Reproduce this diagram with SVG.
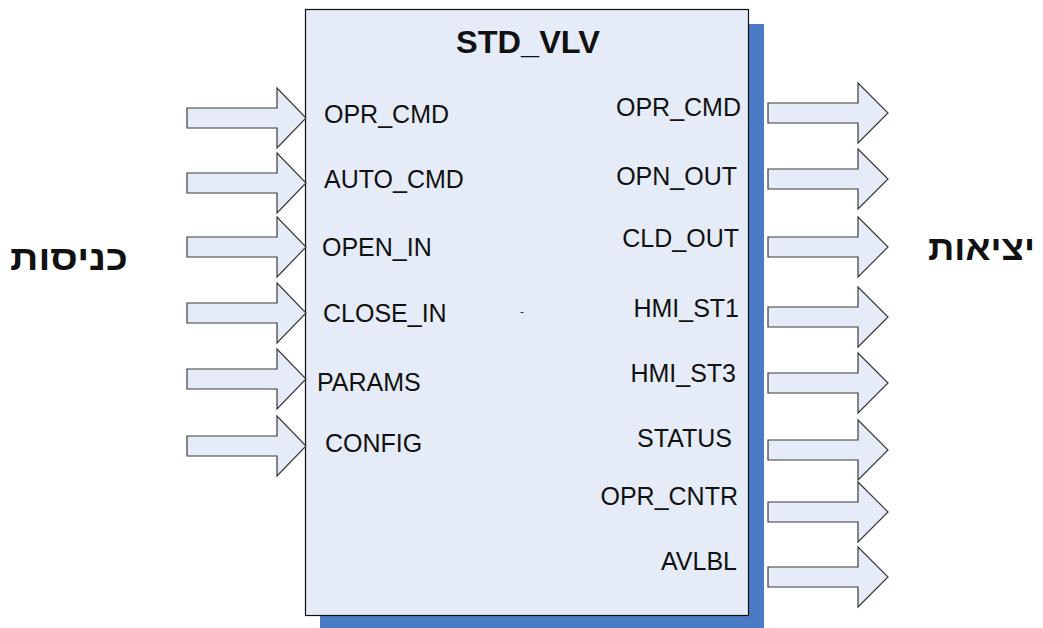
<svg xmlns="http://www.w3.org/2000/svg" width="1043" height="628" viewBox="0 0 1043 628">
<style>
.arr{fill:#E6ECF7;stroke:#3a3a3a;stroke-width:1.2;stroke-linejoin:miter}
.lbl{font-family:"Liberation Sans",Arial,sans-serif;font-size:25px;fill:#111}
.r{text-anchor:end}
.heb{font-family:"Liberation Sans","DejaVu Sans",Arial,sans-serif;font-size:35px;font-weight:bold;fill:#111}
</style>
<defs>
<path id="ain" d="M0,-10 H90 V-30 L119,0 L90,30 V10 H0 Z"/>
<path id="aout" d="M0,-10 H90 V-30 L120,0 L90,30 V10 H0 Z"/>
</defs>
<rect width="1043" height="628" fill="#ffffff"/>
<g id="block">
<rect x="320" y="24" width="444" height="610" fill="#4A7BC4"/>
<rect x="305.5" y="9.5" width="443" height="606" fill="#E6ECF7" stroke="#111" stroke-width="1.2"/>
<text x="528" y="53" text-anchor="middle" textLength="144" lengthAdjust="spacingAndGlyphs" style="font-family:'Liberation Sans',Arial,sans-serif;font-size:31px;font-weight:bold;fill:#111">STD_VLV</text>
<text x="520" y="316" style="font-family:'Liberation Sans',Arial,sans-serif;font-size:12px;fill:#333">-</text>
</g>
<g id="inputs-label"><text class="heb" x="10" y="270" textLength="118" lengthAdjust="spacingAndGlyphs">כניסות</text></g>
<g id="outputs-label"><text class="heb" x="928" y="260" textLength="107" lengthAdjust="spacingAndGlyphs">יציאות</text></g>
<g id="connectors">
<use href="#ain" class="arr" x="187" y="118"/>
<use href="#ain" class="arr" x="187" y="183"/>
<use href="#ain" class="arr" x="187" y="247"/>
<use href="#ain" class="arr" x="187" y="313"/>
<use href="#ain" class="arr" x="187" y="379"/>
<use href="#ain" class="arr" x="187" y="446"/>
<use href="#aout" class="arr" x="768" y="113"/>
<use href="#aout" class="arr" x="768" y="179"/>
<use href="#aout" class="arr" x="768" y="247"/>
<use href="#aout" class="arr" x="768" y="317"/>
<use href="#aout" class="arr" x="768" y="383"/>
<use href="#aout" class="arr" x="768" y="450"/>
<use href="#aout" class="arr" x="768" y="512"/>
<use href="#aout" class="arr" x="768" y="577"/>
</g>
<g id="in-labels">
<text class="lbl" x="324" y="123">OPR_CMD</text>
<text class="lbl" x="324" y="188">AUTO_CMD</text>
<text class="lbl" x="322" y="256">OPEN_IN</text>
<text class="lbl" x="323" y="322">CLOSE_IN</text>
<text class="lbl" x="317" y="391">PARAMS</text>
<text class="lbl" x="325" y="452">CONFIG</text>
</g>
<g id="out-labels">
<text class="lbl r" x="741" y="116">OPR_CMD</text>
<text class="lbl r" x="737" y="185">OPN_OUT</text>
<text class="lbl r" x="739" y="247">CLD_OUT</text>
<text class="lbl r" x="739" y="317">HMI_ST1</text>
<text class="lbl r" x="736" y="382">HMI_ST3</text>
<text class="lbl r" x="732" y="447">STATUS</text>
<text class="lbl r" x="738" y="505">OPR_CNTR</text>
<text class="lbl r" x="737" y="570">AVLBL</text>
</g>
</svg>
